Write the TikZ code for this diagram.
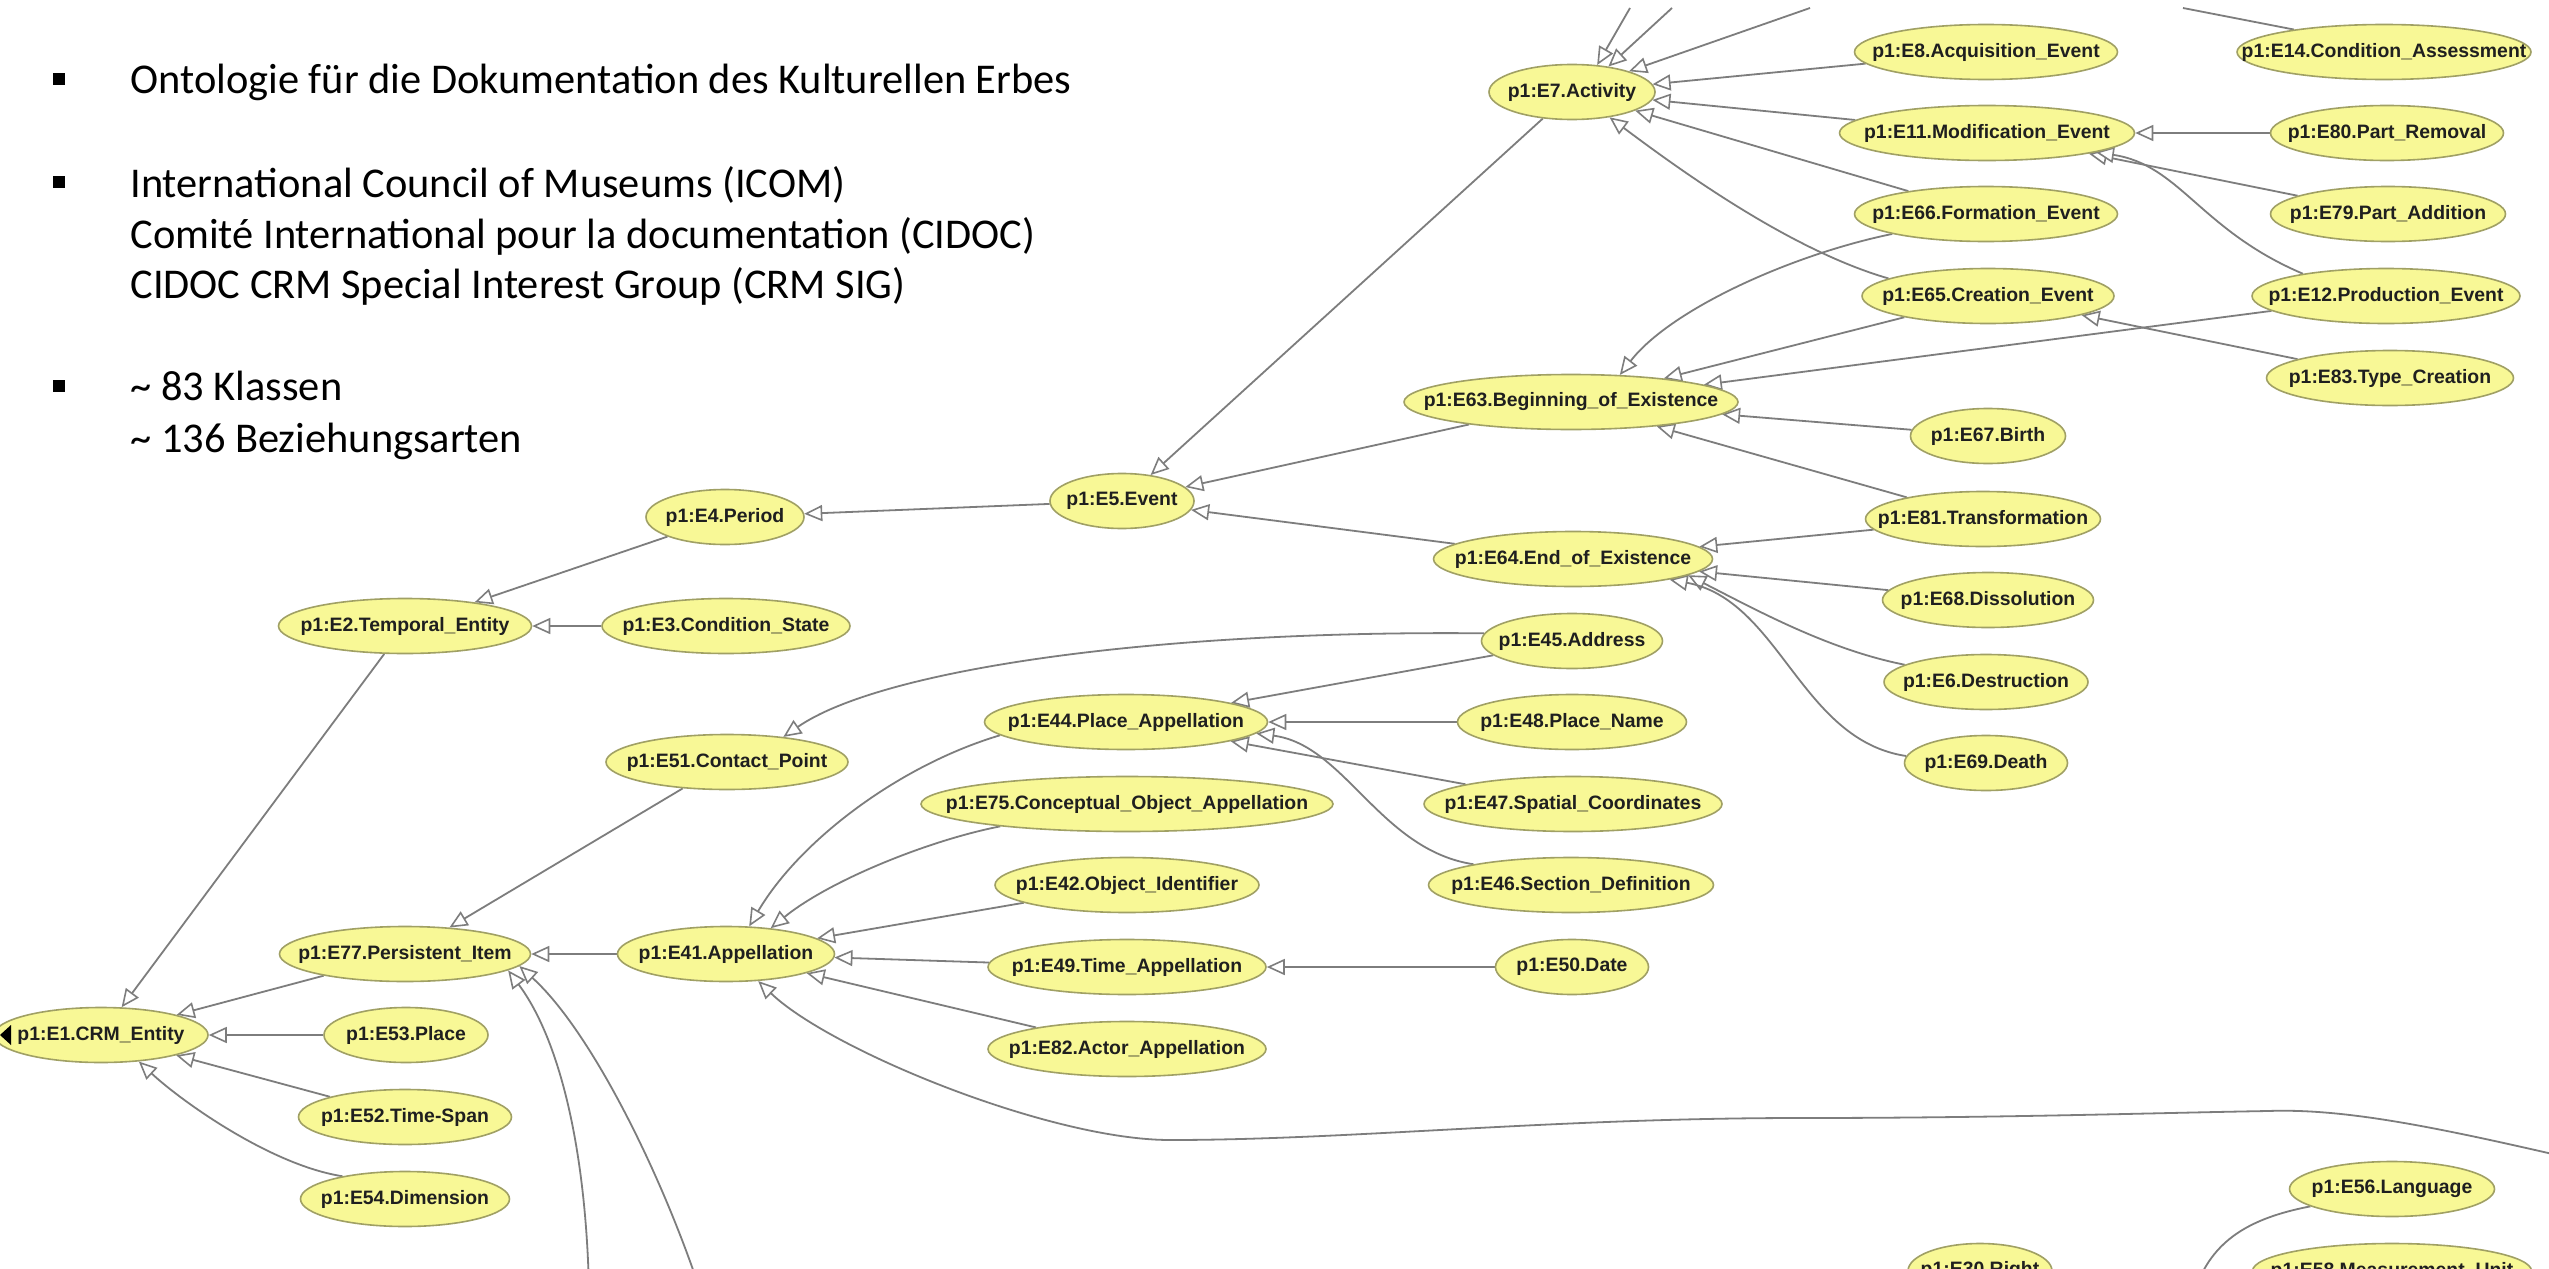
\documentclass[tikz,border=0pt]{standalone}
\usepackage{fontspec}
\setmainfont{Carlito}
\newfontfamily\nodefont{Liberation Sans}
\usetikzlibrary{shapes.geometric,arrows.meta}
\definecolor{nodefill}{RGB}{248,248,150}
\definecolor{nodeborder}{RGB}{160,160,100}
\definecolor{edgegray}{RGB}{125,125,125}
\tikzset{
  cls/.style={ellipse, draw=nodeborder, fill=nodefill, line width=0.8pt, inner sep=0pt, minimum height=27.5pt, font=\nodefont\bfseries\fontsize{9.7}{12}\selectfont, text=black!88},
  isa/.style={draw=edgegray, line width=0.9pt, -{Triangle[length=9pt,width=8pt,fill=white,line width=0.8pt]}},
  plainedge/.style={draw=edgegray, line width=0.9pt},
  slidetext/.style={inner sep=0pt, anchor=base west, font=\fontsize{21.2}{25.5}\selectfont},
  bulletsq/.style={fill=black, rectangle, inner sep=0pt, minimum width=6pt, minimum height=6pt},
}
\newcommand{\onode}[4]{\node[cls, minimum width=#4*0.5pt] (#1) at (#2) {\makebox[0pt]{#3}};}
\pgfdeclarelayer{bg}
\pgfsetlayers{bg,main}
\begin{document}
\begin{tikzpicture}[x=0.5pt, y=-0.5pt]
\useasboundingbox (0,0) rectangle (2549,1269);
\clip (0,0) rectangle (2549,1269);

% slide text
\node[bulletsq] (b1) at (59,79) {};
\node[slidetext] (t1) at (130,93) {Ontologie für die Dokumentation des Kulturellen Erbes};
\node[bulletsq] (b2) at (59,182) {};
\node[slidetext] (t2) at (130,197) {International Council of Museums (ICOM)};
\node[slidetext] (t3) at (130,248) {Comité International pour la documentation (CIDOC)};
\node[slidetext] (t4) at (130,298) {CIDOC CRM Special Interest Group (CRM SIG)};
\node[bulletsq] (b3) at (59,386) {};
\node[slidetext] (t5) at (130,400) {\textasciitilde\ 83 Klassen};
\node[slidetext] (t6) at (130,452) {\textasciitilde\ 136 Beziehungsarten};

% class nodes
\onode{E1}{101,1035}{p1:E1.CRM\_Entity}{214}
\onode{E53}{406,1035}{p1:E53.Place}{164}
\onode{E52}{405,1117}{p1:E52.Time-Span}{213}
\onode{E54}{405,1199}{p1:E54.Dimension}{209}
\onode{E77}{405,954}{p1:E77.Persistent\_Item}{251}
\onode{E41}{726,954}{p1:E41.Appellation}{217}
\onode{E2}{405,626}{p1:E2.Temporal\_Entity}{253}
\onode{E3}{726,626}{p1:E3.Condition\_State}{248}
\onode{E4}{725,517}{p1:E4.Period}{158}
\onode{E51}{727,762}{p1:E51.Contact\_Point}{242}
\onode{E5}{1122,501}{p1:E5.Event}{144}
\onode{E7}{1572,92}{p1:E7.Activity}{166}
\onode{E63}{1571,402}{p1:E63.Beginning\_of\_Existence}{334}
\onode{E64}{1573,559}{p1:E64.End\_of\_Existence}{279}
\onode{E45}{1572,641}{p1:E45.Address}{181}
\onode{E48}{1572,722}{p1:E48.Place\_Name}{229}
\onode{E47}{1573,804}{p1:E47.Spatial\_Coordinates}{298}
\onode{E46}{1571,885}{p1:E46.Section\_Definition}{285}
\onode{E50}{1572,967}{p1:E50.Date}{153}
\onode{E44}{1126,722}{p1:E44.Place\_Appellation}{283}
\onode{E75}{1127,804}{p1:E75.Conceptual\_Object\_Appellation}{412}
\onode{E42}{1127,885}{p1:E42.Object\_Identifier}{264}
\onode{E49}{1127,967}{p1:E49.Time\_Appellation}{278}
\onode{E82}{1127,1049}{p1:E82.Actor\_Appellation}{278}
\onode{E8}{1986,52}{p1:E8.Acquisition\_Event}{263}
\onode{E11}{1987,133}{p1:E11.Modification\_Event}{295}
\onode{E66}{1986,214}{p1:E66.Formation\_Event}{263}
\onode{E65}{1988,296}{p1:E65.Creation\_Event}{252}
\onode{E67}{1988,436}{p1:E67.Birth}{155}
\onode{E81}{1983,519}{p1:E81.Transformation}{235}
\onode{E68}{1988,600}{p1:E68.Dissolution}{211}
\onode{E6}{1986,682}{p1:E6.Destruction}{204}
\onode{E69}{1986,763}{p1:E69.Death}{163}
\onode{E14}{2384,52}{p1:E14.Condition\_Assessment}{294}
\onode{E80}{2387,133}{p1:E80.Part\_Removal}{233}
\onode{E79}{2388,214}{p1:E79.Part\_Addition}{235}
\onode{E12}{2386,296}{p1:E12.Production\_Event}{268}
\onode{E83}{2390,378}{p1:E83.Type\_Creation}{247}
\onode{E56}{2392,1189}{p1:E56.Language}{205}
\onode{E30}{1980,1271}{p1:E30.Right}{144}
\onode{E58}{2392,1271}{p1:E58.Measurement\_Unit}{279}

\fill[black] (0,1035) -- (11,1025) -- (11,1045) -- cycle;

% free ends
\coordinate (offR) at (2600,1165);
\coordinate (botA) at (589,1290);
\coordinate (botB) at (700,1290);
\coordinate (botC) at (2195,1290);
\coordinate (topA) at (1630,8);
\coordinate (topB) at (1672,8);
\coordinate (topC) at (1810,8);
\coordinate (topD) at (2183,8);

\begin{pgfonlayer}{bg}
\fill[white] (0,0) rectangle (2549,1269);
\foreach \c/\p in {E5/E4, E4/E2, E3/E2, E2/E1, E77/E1, E53/E1, E52/E1, E51/E77, E41/E77, E7/E5, E63/E5, E64/E5, E8/E7, E11/E7, E66/E7, E80/E11, E79/E11, E65/E63, E12/E63, E67/E63, E81/E63, E83/E65, E81/E64, E68/E64, E45/E44, E48/E44, E47/E44, E42/E41, E49/E41, E82/E41, E50/E49}
  \draw[isa] (\c) -- (\p);
\draw[isa] (E54.160) .. controls (270,1165) and (180,1100) .. (E1.-35);
\draw[isa] (E65.170) .. controls (1790,250) and (1680,170) .. (E7.-34);
\draw[isa] (E12.165) .. controls (2200,230) and (2180,165) .. (E11.-10);
\draw[isa] (E66.192) .. controls (1790,255) and (1670,310) .. (E63.29);
\draw[isa] (E6.168) .. controls (1830,650) and (1760,612) .. (E64.-8);
\draw[isa] (E69.175) .. controls (1800,740) and (1780,600) .. (E64.-12);
\draw[isa] (E46.168) .. controls (1380,850) and (1345,745) .. (E44.-5);
\draw[isa] (E45.175) .. controls (1150,630) and (880,670) .. (E51.24);
\draw[isa] (E44.186) .. controls (900,765) and (800,840) .. (E41.50);
\draw[isa] (E75.190) .. controls (930,840) and (830,880) .. (E41.30);
\draw[isa] (offR) .. controls (2450,1130) and (2350,1108) .. (2268,1111)
  .. controls (2150,1113) and (2000,1118) .. (1800,1118)
  .. controls (1550,1118) and (1350,1140) .. (1170,1140)
  .. controls (1050,1140) and (830,1050) .. (E41.-40);
\draw[isa] (botA) .. controls (586,1150) and (560,1040) .. (E77.-9);
\draw[isa] (botB) .. controls (660,1170) and (590,1030) .. (E77.-6);
\draw[plainedge] (E56.-168) .. controls (2250,1218) and (2212,1240) .. (botC);
\draw[plainedge] (E14.166) -- (topD);
\draw[isa] (topA) -- (E7.47);
\draw[isa] (topB) -- (E7.35);
\draw[isa] (topC) -- (E7.20);
\end{pgfonlayer}
\end{tikzpicture}
\end{document}
